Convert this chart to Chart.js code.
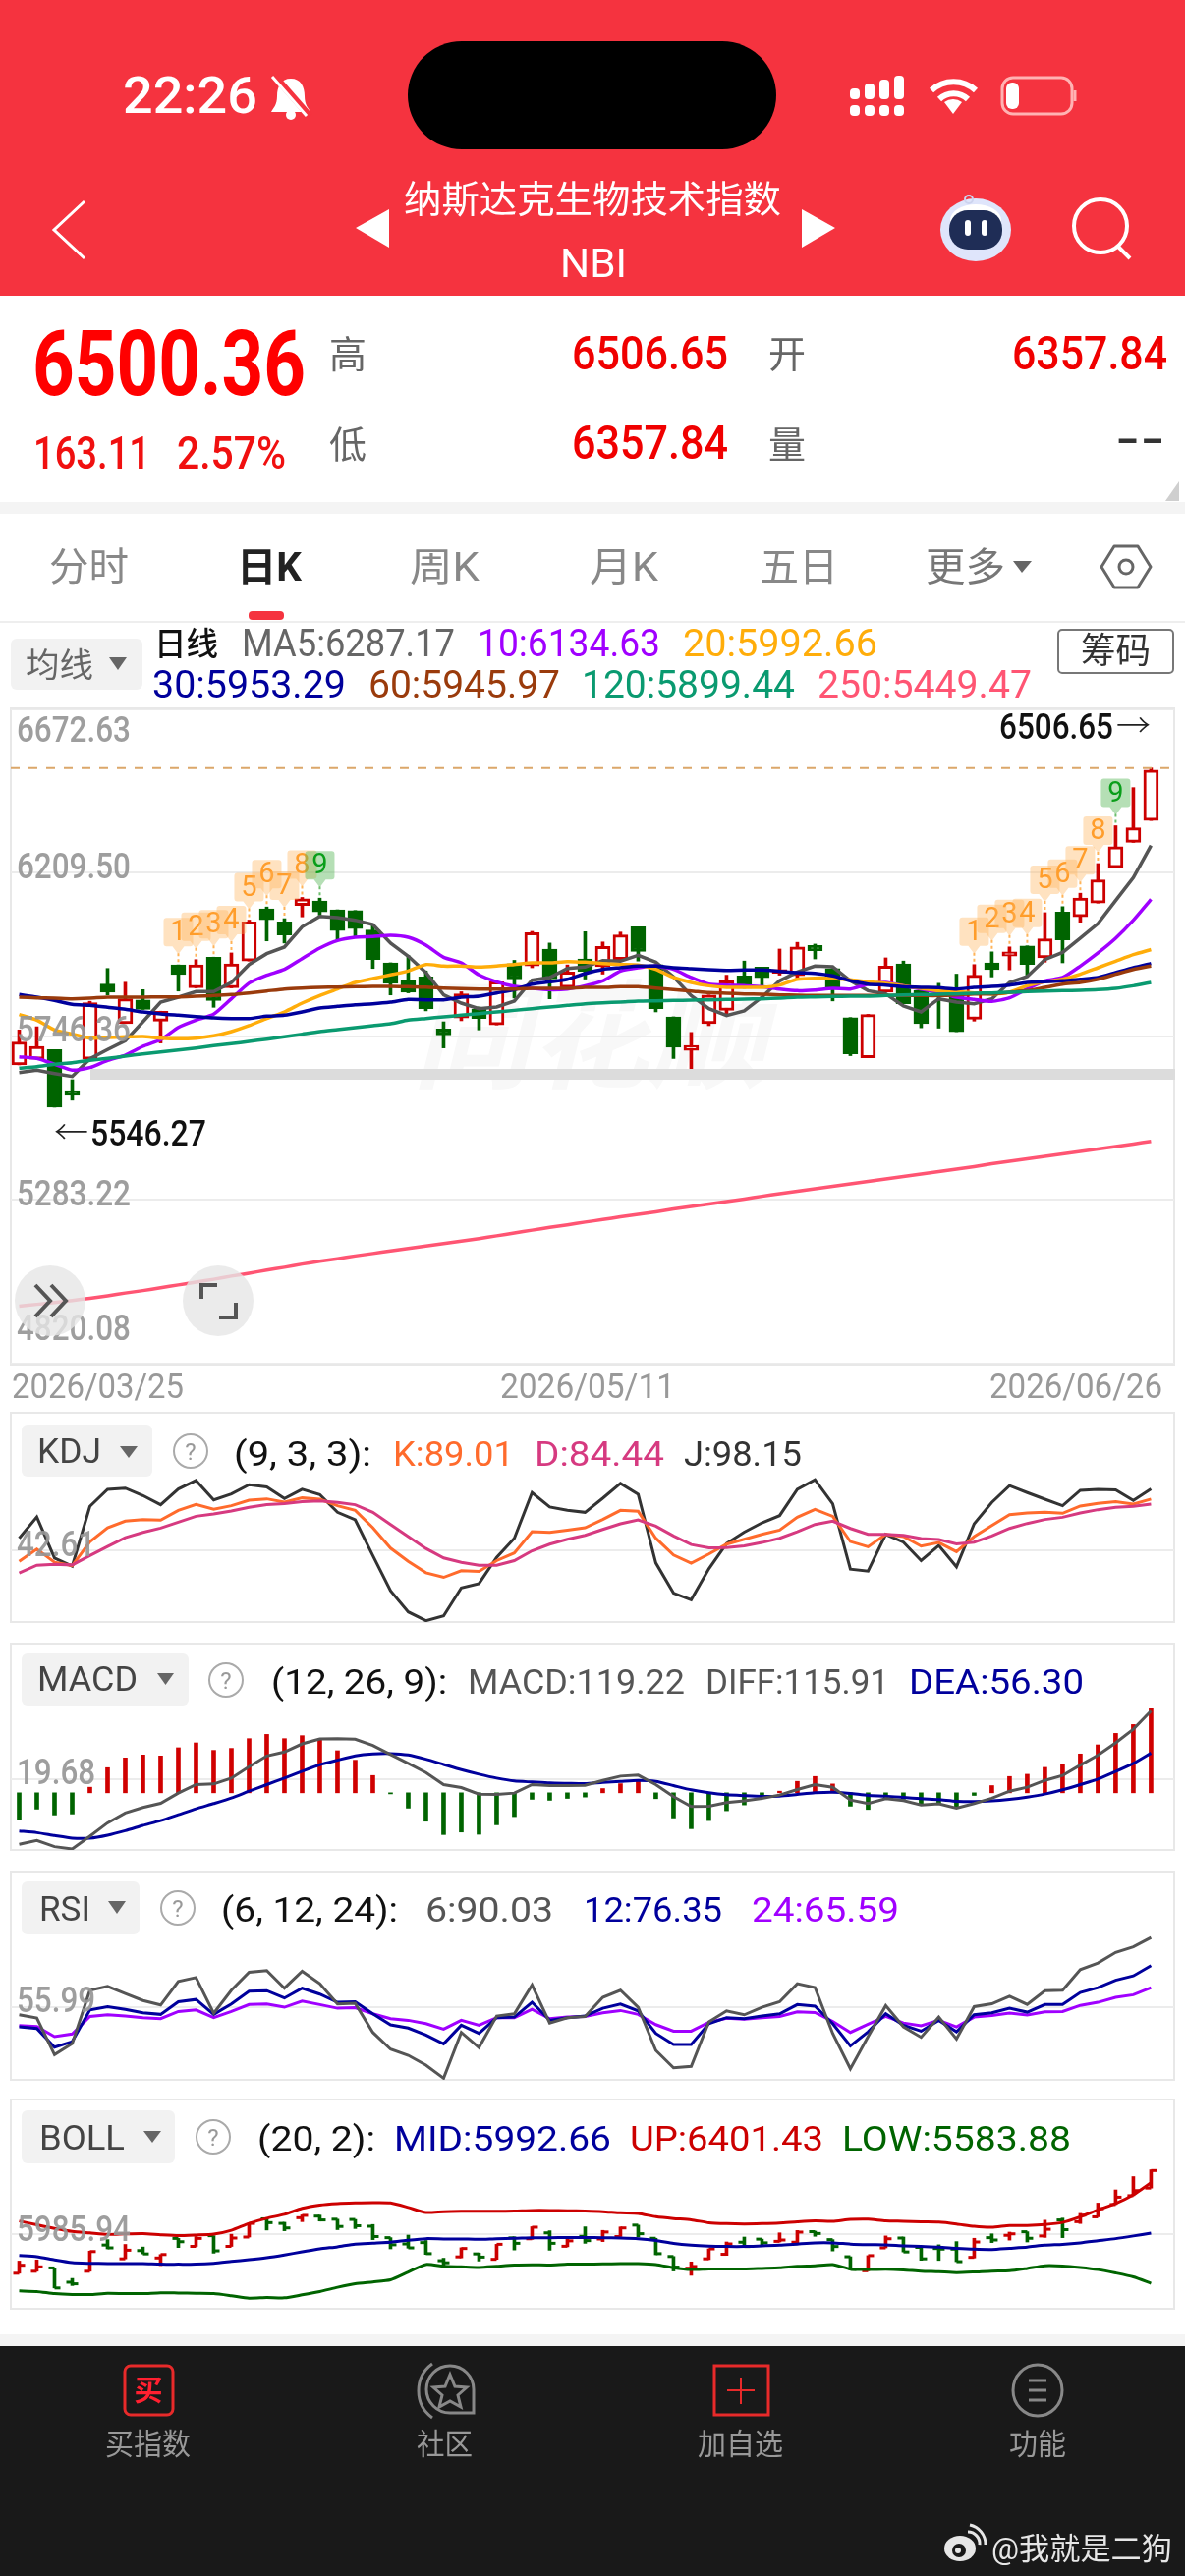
<!DOCTYPE html>
<html>
<head>
<meta charset="utf-8">
<title>NBI 日K</title>
<script src="https://cdn.jsdelivr.net/npm/chart.js@4"></script>
<style>
html, body { margin: 0; padding: 0; background: #fff; }
#page { position: relative; width: 1206px; height: 2622px; overflow: hidden; background: #fff; font-family: Roboto, "Noto Sans CJK SC", sans-serif; }
#page canvas { position: absolute; left: 0; z-index: 2; }
.block, .frame { position: absolute; box-sizing: border-box; }
.frame { border: 2px solid #e8e8e8; left: 10px; width: 1186px; z-index: 1; }
.t { position: absolute; white-space: nowrap; line-height: 1; transform-origin: left center; z-index: 4; }
#icons { position: absolute; left: 0; top: 0; z-index: 3; }
#mark { position: absolute; left: 420px; top: 986px; font: italic 700 120px "Noto Sans CJK SC"; color: #f8f8f8; z-index: 0; white-space: nowrap; line-height: 1; }
</style>
</head>
<body>
<div id="page">
  <div class="block" style="left:0;top:0;width:1206px;height:301px;background:#f5333f"></div>
  <div class="block" style="left:415px;top:42px;width:375px;height:110px;border-radius:55px;background:#000"></div>
  <div class="block" style="left:0;top:511px;width:1206px;height:12px;background:#f4f4f4"></div>
  <div class="block" style="left:0;top:632px;width:1206px;height:2px;background:#eeeeee"></div>
  <div class="block" style="left:253px;top:622px;width:36px;height:9px;border-radius:4px;background:#f5333f"></div>
  <div class="block" style="left:11px;top:650px;width:134px;height:52px;border-radius:6px;background:#f2f2f2"></div>
  <div class="block" style="left:1076px;top:640px;width:119px;height:46px;border-radius:5px;border:2px solid #777"></div>
  <div id="mark">同花顺</div>
  <div class="frame" style="top:720px;height:670px"></div>
  <div class="frame" style="top:1437px;height:215px"></div>
  <div class="block" style="left:22px;top:1450px;width:133px;height:53px;border-radius:6px;background:#f2f2f2"></div>
  <div class="frame" style="top:1672px;height:212px"></div>
  <div class="block" style="left:22px;top:1683px;width:170px;height:53px;border-radius:6px;background:#f2f2f2"></div>
  <div class="frame" style="top:1904px;height:214px"></div>
  <div class="block" style="left:22px;top:1915px;width:120px;height:54px;border-radius:6px;background:#f2f2f2"></div>
  <div class="frame" style="top:2136px;height:215px"></div>
  <div class="block" style="left:22px;top:2148px;width:156px;height:54px;border-radius:6px;background:#f2f2f2"></div>
  <div class="block" style="left:92px;top:1088px;width:1104px;height:11px;background:#dcdcdc;z-index:3"></div>
  <div class="block" style="left:0;top:2376px;width:1206px;height:12px;background:#f4f4f4"></div>
  <div class="block" style="left:0;top:2388px;width:1206px;height:234px;background:#191919"></div>

  <canvas id="kline" width="1206" height="666" style="top:722px"></canvas>
  <canvas id="kdj" width="1206" height="213" style="top:1438px"></canvas>
  <canvas id="macd" width="1206" height="210" style="top:1673px"></canvas>
  <canvas id="rsi" width="1206" height="212" style="top:1905px"></canvas>
  <canvas id="boll" width="1206" height="213" style="top:2137px"></canvas>

  <svg id="icons" width="1206" height="2622" viewBox="0 0 1206 2622" fill="none">
    <!-- status bar -->
    <g fill="#fff">
      <rect x="865" y="90" width="10" height="11" rx="4"/><rect x="865" y="107" width="10" height="11" rx="4"/>
      <rect x="880" y="85" width="10" height="16" rx="4"/><rect x="880" y="107" width="10" height="11" rx="4"/>
      <rect x="895" y="81" width="10" height="20" rx="4"/><rect x="895" y="107" width="10" height="11" rx="4"/>
      <rect x="910" y="77" width="10" height="24" rx="4"/><rect x="910" y="107" width="10" height="11" rx="4"/>
      <path d="M970 116 l-9 -12 a15 15 0 0 1 18 0 z"/>
    </g>
    <path d="M948 92 a33 33 0 0 1 45 0 M956 101 a21 21 0 0 1 29 0" stroke="#fff" stroke-width="6"/>
    <rect x="1020" y="79" width="71" height="37" rx="11" stroke="#ffb3b3" stroke-width="3"/>
    <rect x="1024" y="84" width="13" height="27" rx="6" fill="#fff"/>
    <path d="M1094 92 v11" stroke="#ffb3b3" stroke-width="3"/>
    <path d="M296 80 c-10 0 -14 8 -14 18 c0 9 -4 12 -6 16 h40 c-2 -4 -6 -7 -6 -16 c0 -10 -4 -18 -14 -18 z" fill="#fff"/>
    <circle cx="296" cy="117" r="5" fill="#fff"/>
    <path d="M280 78 L315 118" stroke="#f5333f" stroke-width="7"/><path d="M277 78 L312 118" stroke="#fff" stroke-width="3"/>
    <!-- nav bar -->
    <polyline points="86,205 55,234 86,263" stroke="#fff" stroke-width="3"/>
    <polygon points="396,213 362,232 396,252" fill="#fff"/>
    <polygon points="816,213 850,232 816,252" fill="#fff"/>
    <circle cx="1120" cy="230" r="27" stroke="#fff" stroke-width="4"/>
    <path d="M1138 251 L1150 263" stroke="#fff" stroke-width="4"/>
    <ellipse cx="993" cy="234" rx="36" ry="32" fill="#dfe5fb"/>
    <ellipse cx="993" cy="224" rx="26" ry="16" fill="#ffffff"/>
    <rect x="966" y="214" width="54" height="40" rx="19" fill="#1f2d56"/>
    <rect x="982" y="224" width="6" height="16" rx="3" fill="#fff"/>
    <rect x="999" y="224" width="6" height="16" rx="3" fill="#fff"/>
    <circle cx="986" cy="203" r="4" stroke="#ccd3ee" stroke-width="2"/>
    <polygon points="1186,510 1200,510 1200,490" fill="#cfcfcf"/>
    <polygon points="1031,571 1050,571 1040,583" fill="#666"/>
    <polygon points="1121,577 1134,556 1158,556 1171,577 1158,598 1134,598" stroke="#666" stroke-width="3" stroke-linejoin="round"/>
    <circle cx="1146" cy="577" r="7" stroke="#666" stroke-width="3"/>
    <polygon points="111,669 129,669 120,682" fill="#666"/>
    <!-- chart buttons -->
    <circle cx="51" cy="1324" r="36" fill="#e6e6e6" fill-opacity=".8"/>
    <path d="M36 1308 L51 1324 L36 1340 M52 1308 L67 1324 L52 1340" stroke="#555" stroke-width="4"/>
    <circle cx="222" cy="1324" r="36" fill="#e6e6e6" fill-opacity=".8"/>
    <path d="M205 1322 v-14 h16 M240 1326 v15 h-17" stroke="#555" stroke-width="4"/>
    <!-- indicator headers -->
    <polygon points="122,1472 140,1472 131,1484" fill="#666"/>
    <polygon points="160,1703 177,1703 168.500,1715" fill="#666"/>
    <polygon points="110,1935 128,1935 119,1948" fill="#666"/>
    <polygon points="146,2169 164,2169 155,2181" fill="#666"/>
    <g stroke="#aaa" stroke-width="2"><circle cx="194" cy="1477" r="17"/><circle cx="230" cy="1710" r="17"/><circle cx="181" cy="1942" r="17"/><circle cx="217" cy="2175" r="17"/></g>
    <g fill="#999" font-family="Roboto" font-size="24" text-anchor="middle">
      <text x="194" y="1486">?</text><text x="230" y="1719">?</text><text x="181" y="1951">?</text><text x="217" y="2184">?</text>
    </g>
    <!-- tab bar -->
    <rect x="127" y="2408" width="49" height="50" rx="6" stroke="#e82a2a" stroke-width="3"/>
    <text x="151" y="2444" fill="#ff2030" font-family="Noto Sans CJK SC" font-weight="700" font-size="29" text-anchor="middle">买</text>
    <path d="M440 2406 a34 34 0 0 0 0 55" stroke="#888" stroke-width="3"/>
    <path d="M482 2456 h-24 a24 24 0 1 1 24 -24 z" stroke="#888" stroke-width="3"/>
    <polygon points="458,2417 463,2429 475,2430 466,2438 469,2450 458,2444 447,2450 450,2438 441,2430 453,2429" stroke="#888" stroke-width="3"/>
    <rect x="727" y="2408" width="55" height="50" stroke="#e82a2a" stroke-width="3"/>
    <path d="M754 2420 v27 M740 2433 h28" stroke="#e82a2a" stroke-width="2"/>
    <ellipse cx="1056" cy="2433" rx="25" ry="26" stroke="#888" stroke-width="3"/>
    <path d="M1047 2423 h18 M1047 2433 h18 M1047 2443 h18" stroke="#888" stroke-width="3"/>
    <ellipse cx="977" cy="2594" rx="16" ry="13" fill="#e6e6e6"/>
    <circle cx="976" cy="2596" r="7" fill="#191919"/><circle cx="975" cy="2596" r="3" fill="#e6e6e6"/>
    <path d="M985 2577 a12 12 0 0 1 12 13 M987 2570 a20 20 0 0 1 16 20" stroke="#e6e6e6" stroke-width="3"/>
  </svg>
</div>

<script>
// trading days on the daily axis, oldest first
const axisDates = ['2026/03/25', '2026/05/11', '2026/06/26'];

const opens = [
  5666,5682,5709,5593,5682,5895,5783,5850,5790,5949,
  5884,5971,5884,5960,6108,6071,6117,6130,6105,6103,
  6048,5955,5904,5915,5768,5799,5823,5779,5953,5946,
  5994,5885,5966,5944,5964,6057,5950,5802,5707,5783,
  5820,5918,5943,5925,5918,6004,5939,5800,5686,5872,
  5952,5876,5867,5862,5795,5955,5974,6003,5969,6099,
  6085,6124,6224,6296,6357.84
];
const closes = [
  5731,5718,5546.27,5580,5842,5872,5853,5823,5818,5922,
  5949,5848,5952,6071,6077,6034,6136,6099,6046,6052,
  5964,5897,5872,5825,5751,5867,5797,5901,5909,6040,
  5909,5929,5931,6001,6034,5987,5825,5716,5721,5864,
  5904,5883,5913,5936,6000,5989,5883,5697,5809,5946,
  5839,5783,5862,5760,5920,5936,5986,5950,6023,6020,
  6138,6190,6284,6337.25,6500.36
];
const highs = [
  5765,5774,5709,5624,5846,5939,5900,5879,5818,5949,
  5964,5971,5983,6076,6113,6080,6140,6138,6105,6103,
  6062,5955,5976,5932,5788,5873,5830,5901,5962,6044,
  6011,5949,6043,6014,6042,6057,5950,5802,5758,5864,
  5920,5960,5943,5994,6013,6008,5939,5800,5809,5969,
  5960,5876,5897,5923,5950,5986,6000,6003,6097,6114,
  6152,6236,6343,6451,6506.65
];
const lows = [
  5666,5682,5546.27,5566,5682,5864,5783,5823,5728,5875,
  5884,5829,5884,5960,6017,6011,6085,6090,6020,6029,
  5939,5864,5870,5819,5714,5791,5765,5779,5855,5941,
  5853,5881,5909,5923,5964,5960,5816,5684,5649,5777,
  5811,5883,5890,5920,5911,5966,5847,5692,5686,5872,
  5839,5771,5770,5760,5790,5915,5935,5920,5957,5955,
  6070,6124,6224,6296,6357.84
];

const ma5 = [
  5644.4,5650.9,5641.6,5633.2,5683.3,5709.3,5734.3,5788.1,5843.7,5857.6,
  5873.4,5873.4,5899.4,5950.3,5981,5999.5,6057,6086.6,6082.9,6075.5,
  6063.5,6010.6,5973.5,5927.1,5864.1,5840.9,5825.2,5829.8,5846.5,5905.8,
  5913.3,5939.2,5942.9,5961.5,5959.6,5976.3,5956.8,5915.1,5862.2,5825.2,
  5805.7,5818.7,5857.6,5904,5929,5945.7,5943.8,5904,5876.1,5866.9,
  5832.6,5815.9,5853,5843.7,5839.1,5853,5899.4,5916,5964.3,5984.6,
  6024.6,6066.3,6131.2,6196.1,6287.17
];
const ma10 = [
  5688.9,5684.3,5667.6,5650.9,5658.3,5678.7,5693.5,5718.5,5737.1,5772.3,
  5792.7,5809.4,5853,5897.5,5919.8,5936.4,5967,5996.7,6018,6027.3,
  6029.2,6032.9,6027.3,6005.1,5970.8,5954.9,5920.7,5901.2,5888.2,5882.7,
  5878.9,5880.8,5890,5904,5931.8,5941.1,5945.7,5936.4,5913.3,5894.7,
  5892,5890,5887.3,5880.8,5876.1,5878,5882.7,5880.8,5894.7,5899.4,
  5890,5880.8,5871.5,5857.6,5851.1,5845.6,5855.8,5880.8,5904,5913.3,
  5945.7,5982.8,6024.6,6075.5,6134.63
];
const ma20 = [
  5808.5,5792.7,5764.9,5752.9,5741.7,5743.6,5745.4,5746.4,5741.7,5739.9,
  5741.7,5748.2,5760.3,5777,5797.4,5815.9,5840.9,5862.2,5880.8,5899.4,
  5910.6,5920.7,5931.8,5950.3,5945.7,5945.7,5942.9,5945.7,5950.3,5954.9,
  5954.9,5958.7,5956.8,5953,5950.3,5948.5,5936.4,5913.3,5899.4,5890,
  5885.4,5885.4,5885.4,5892,5908.5,5911.4,5910.6,5906.8,5901.2,5896.6,
  5890,5882.7,5876.1,5873.4,5869.7,5866.9,5871.5,5890,5901.2,5908.5,
  5922.5,5941.1,5959.6,5978.2,5992.66
];
const ma30 = [
  5865,5857.6,5848.4,5837.2,5834.5,5828.9,5823.3,5815.9,5810.4,5806.6,
  5802.9,5799.2,5797.4,5797.4,5803.8,5806.6,5815.9,5827,5831.7,5836.3,
  5839.1,5843.7,5851.1,5850.2,5850.2,5857.6,5860.4,5869.7,5878.9,5894.7,
  5901.2,5908.5,5924.4,5936.4,5941.1,5945.7,5945.7,5941.1,5938.3,5935.5,
  5933.6,5934.6,5934.6,5930.9,5927.2,5925.3,5917.9,5904,5894.7,5892,
  5887.3,5885.4,5884.5,5880.8,5885.4,5888.2,5892,5899.4,5901.2,5904,
  5908.5,5913.3,5927.2,5941.1,5953.29
];
const ma60 = [
  5857.6,5855.8,5854.8,5853,5854.8,5857.6,5857.6,5857.6,5858.6,5858.6,
  5860.4,5862.2,5865,5869.7,5875.2,5880.8,5883.6,5885.4,5886.4,5887.3,
  5888.2,5888.2,5887.3,5886.4,5883.6,5881.7,5880.8,5880.8,5880.8,5882.7,
  5882.7,5882.7,5885.4,5885.4,5887.3,5887.3,5883.6,5878.9,5875.2,5870.6,
  5868.8,5866.9,5866,5864.1,5863.2,5862.2,5862.2,5862.2,5862.2,5862.2,
  5862.2,5862.2,5862.2,5864.1,5866.9,5866.9,5871.5,5876.1,5885.4,5894.7,
  5899.4,5908.5,5922.5,5936.4,5945.97
];
const ma120 = [
  5656.4,5661.1,5667.6,5672.2,5678.7,5684.3,5690.7,5697.1,5702.7,5708.4,
  5713.9,5720.4,5726,5732.5,5738.9,5745.4,5752.9,5760.3,5765.8,5771.4,
  5777,5782.5,5792.7,5797.4,5802,5806.6,5811.2,5815.9,5820.4,5825.2,
  5829.8,5834.5,5839.1,5841.8,5843.7,5846.5,5847.4,5848.3,5849.3,5850.2,
  5851.1,5852,5853,5854.8,5857.6,5858.5,5859.5,5860.4,5860.4,5862.2,
  5864.1,5865,5865.9,5866.9,5868.8,5869.7,5871.5,5873.4,5875.2,5876.1,
  5877.1,5878.9,5882.7,5890,5899.44
];
const ma250 = [
  4983,4988,4993,4999,5005,5012,5020,5027,5035,5043,
  5051,5059,5068,5076,5085,5093,5102,5110,5117,5125,
  5132,5139,5146,5153,5160,5167,5174,5182,5190,5198,
  5206,5213,5221,5228,5236,5243,5250,5258,5265,5272,
  5279,5286,5294,5301,5308,5315,5322,5329,5336,5343,
  5350,5357,5364,5371,5378,5386,5393,5400,5407,5414,
  5421,5428,5435,5442,5449.47
];

const kdjK = [
  32.6,43.6,31.7,28.7,50.2,63,69,70.5,69.9,78.8,
  84.2,79.7,83,88,89.2,86.3,90.1,88.9,83,78.8,
  63,44.5,32.6,22.2,18,24,23.4,33.2,40.1,59.4,
  58.8,60.9,63,70.5,78.8,77.9,53.5,38.3,30.8,39.2,
  48.1,52.6,57,60.9,72.5,79.7,73.4,50.5,45.7,57,
  55,46.3,49.6,41.3,55,65.1,74.9,76.4,77,76.1,
  82.7,85.1,86.6,84.5,89.01
];
const kdjD = [
  21.9,29,29.9,29.3,37.7,46,54.1,58.8,62.7,68.1,
  73.4,75.5,78.2,81.5,83.9,84.8,86.6,87.4,86,83.9,
  77,66,55,44.2,35.6,31.7,29,29,33.2,42.1,
  48.1,52.6,56.2,61.5,66.6,70.2,64.5,55.6,47.8,44.8,
  45.1,46.6,49.6,53.5,59.4,66,69,62.4,57,57,
  56.2,53.2,52.3,48.4,49.9,55.6,62.4,66.9,70.5,72.5,
  76.4,79.4,81.5,82.4,84.44
];
const kdjJ = [
  53.5,72.8,35.6,28.1,82.4,97.9,99,92.2,83.9,98.2,
  105.9,88.3,93.7,102,100,89.5,97.9,93.1,77,70.2,
  37.7,5.8,-13.3,-21.3,-16.9,8.5,12.4,36.2,53.5,94.9,
  81.8,78.8,77,89.8,103.2,93.4,31.1,3.7,-2.3,25.8,
  48.7,59.1,67.5,74,97.9,106.5,84.8,25.5,23.7,57,
  49.9,33.2,46.9,27.6,66.6,86,101.2,94.9,88.9,83,
  97,97.9,97.3,87.7,98.15
];

const macdBars = [
  -38.4,-23.1,-31.4,-30,7.9,35.6,49.4,53.6,52.2,63.8,
  70.7,60.1,62.9,76.7,82.7,76.7,80.9,74.9,59.6,46.2,
  24.5,-1.5,-21.7,-40.2,-59.1,-55.5,-58.7,-45.3,-33.7,-9.2,
  -10.6,-7.9,-6,6,12.9,16.2,-8.3,-35.6,-50.8,-39.3,
  -25.4,-17.1,-6.9,2.3,16.2,23.1,12.5,-18.9,-23.6,-9.2,
  -9.2,-16.2,-15.2,-19.9,-3.7,10.2,23.1,26.3,36,40.2,
  55,67.9,84.1,96.6,119.22
];
const macdDiff = [
  -73,-67.5,-76.2,-79.5,-61.4,-42.5,-28.6,-20.8,-14.8,-0.4,
  11.6,12.5,20.8,37,52.2,57.8,69.3,76.3,76.7,75.8,
  67,54.1,41.6,28.7,11.6,7.4,-1.8,-2.3,-0.4,11.6,
  10.2,10.2,10.7,17.6,23.6,25,11.6,-5.5,-19.4,-18.9,
  -13.8,-11.5,-7.8,-3.2,4.6,11.6,7.9,-10.1,-15.2,-8.3,
  -11.1,-17.1,-15.7,-21.7,-15.2,-7.8,2.3,7.9,17.6,24.5,
  39.3,53.2,70.7,90.1,115.91
];
const macdDea = [
  -54,-56.4,-60.5,-64.2,-64.2,-60,-53.6,-46.2,-39.3,-31,
  -22.6,-15.2,-7.4,2.3,11.6,20.8,30.5,39.8,46.2,52.2,
  55,55.5,53.6,47.6,40.2,32.8,26.4,20.8,16.7,15.3,
  13.9,13.4,13,14.8,16.2,17.6,16.2,10.2,4.2,0,
  -2.8,-4.1,-5.1,-4.6,-2.3,0,0.9,-0.9,-3.7,-4.6,
  -6.4,-8.3,-9.7,-12,-12.5,-11.5,-9.2,-6,-1.8,4.2,
  11.6,19.4,30.1,41.6,56.30
];

const rsi6 = [
  52.3,50.7,32.8,38.2,64.3,66.2,62.7,59.3,57.1,68.6,
  70.5,53.1,64.3,73.1,73.9,65.3,73.6,67.5,57.6,57.9,
  43.7,35.5,32.5,27.7,21.3,43.7,36.3,51.7,52.8,66.9,
  48.3,50.9,51.5,60.8,64.3,56,34.9,26.4,27.1,48.8,
  54.2,52.3,56,58.7,67.5,65.6,43.2,25.9,41.6,56.8,
  46.4,41.3,51.2,40.5,56.3,57.7,61.4,57.4,64.1,64.3,
  74.4,77.6,82.8,85.5,90.03
];
const rsi12 = [
  46.4,45.6,36.5,39.2,54.7,56.3,55,53.3,52.5,58.7,
  59.8,52.5,57.6,63.8,64.1,60.5,65.3,62.4,58.4,58.7,
  52.8,47.4,45.8,42.4,38.1,47.2,43.2,50.9,51.2,58.4,
  49.6,50.9,51.7,55.5,57.6,54.2,43.2,37.8,37.8,48,
  50.9,50.4,51.7,52.8,57.3,56.5,48,37.1,44,52.8,
  47.2,44.3,49.6,44,52.3,53.3,55.5,53.6,57.3,57.3,
  63.2,65.6,69.2,71.3,76.35
];
const rsi24 = [
  47,46.6,41.6,42.9,51.5,52.3,51.7,50.9,50.4,53.9,
  54.7,50.9,53.9,57.3,57.6,56,59,57.3,55.5,55.8,
  52.8,50.4,49.6,48,45.3,49.6,47.2,50.9,50.9,55,
  50.4,51.2,51.5,53.3,54.4,52.5,47.5,44.3,44.3,48.6,
  50.6,50.1,50.9,51.5,53.7,53.4,49.1,43.7,47.7,51.5,
  48.3,46.9,49.6,46.4,51.2,52,53.1,52.2,53.7,53.9,
  56.9,58.4,60.8,62.1,65.59
];

const bollUp = [
  6090.9,6059.1,6029.9,6005.5,5993.3,5981,5985.9,5988.4,5978.6,5971.3,
  5976.2,5983.5,6015.2,6071.3,6112.8,6144.5,6193.3,6220.2,6232.4,6237.3,
  6239.7,6237.3,6200.7,6159.2,6166.5,6169,6169,6169,6171.4,6176.3,
  6176.3,6173.8,6171.4,6166.5,6156.7,6151.9,6125,6110.4,6100.6,6076.2,
  6068.9,6066.5,6068.9,6073.8,6083.5,6090.9,6088.4,6103.1,6105.5,6090.9,
  6088.4,6083.5,6081.1,6066.5,6047,6039.6,6054.3,6054.3,6061.6,6078.7,
  6125,6181.1,6232.4,6303.1,6401.43
];
const bollMid = [
  5810.3,5800.5,5773.7,5751.7,5746.8,5744.4,5744.4,5744.4,5739.5,5739.5,
  5739.5,5746.8,5761.5,5776.1,5793.2,5815.1,5839.5,5863.9,5881,5903,
  5910.3,5917.6,5934.7,5946.9,5944.5,5944.5,5942,5946.9,5949.3,5954.2,
  5954.2,5956.7,5956.7,5954.2,5951.8,5946.9,5932.3,5907.9,5893.2,5885.9,
  5883.5,5883.5,5888.3,5893.2,5903,5912.7,5912.7,5903,5898.1,5895.7,
  5888.3,5883.5,5878.6,5868.8,5861.5,5859,5868.8,5878.6,5893.2,5900.5,
  5912.7,5929.8,5946.9,5968.9,5992.66
];
const bollLow = [
  5522.3,5517.5,5500.4,5493,5493,5502.8,5500.4,5500.4,5507.7,5505.3,
  5502.8,5500.4,5483.3,5463.8,5468.7,5466.2,5490.6,5517.5,5551.6,5580.9,
  5595.5,5612.6,5676.1,5737,5722.4,5717.5,5712.6,5722.4,5732.2,5734.6,
  5732.2,5739.5,5739.5,5742,5744.4,5744.4,5737,5710.2,5695.6,5700.4,
  5700.4,5700.4,5705.3,5710.2,5722.4,5727.3,5737,5700.4,5695.6,5698,
  5693.1,5683.4,5678.5,5671.2,5676.1,5683.4,5685.8,5705.3,5727.3,5724.9,
  5712.6,5695.6,5668.7,5637,5583.88
];

// TD sequence counters, candle index and the count shown above it
const tdIndex = [9,10,11,12,13,14,15,16,17,54,55,56,57,58,59,60,61,62];
const tdCount = [1,2,3,4,5,6,7,8,9,1,2,3,4,5,6,7,8,9];

const priceTicks = [6672.63, 6209.50, 5746.36, 5283.22, 4820.08];
const priceHigh = 6506.65;
const priceLow = 5546.27;

const RED = '#cc0000';
const GREEN = '#006400';
const GREY_LINE = '#555555';
const NAVY = '#00009c';
const PURPLE = '#a000ff';

// x runs in candle numbers, one candle every 18px starting at 19.5px
const xMin = -0.472;
const xMax = 65.31;

function pts(values) {
  return values.map((y, x) => ({ x, y }));
}

function lineSet(values, color, width, tension) {
  return {
    type: 'line', data: pts(values), borderColor: color, borderWidth: width || 3,
    pointRadius: 0, tension: tension || 0, order: 0, fill: false
  };
}

const upDown = i => closes[i] >= opens[i];
const candleColors = closes.map((c, i) => upDown(i) ? RED : GREEN);

// draws the grey value labels over the marks, squeezed to the narrow digits of the app
function tickLabelPlugin(ticks, offsets) {
  return {
    id: 'tickLabels',
    afterDatasetsDraw(chart) {
      const { ctx, scales: { y } } = chart;
      ctx.save();
      ctx.font = '500 37px Roboto';
      ctx.fillStyle = 'rgba(150,150,150,.92)';
      ctx.textBaseline = 'middle';
      ticks.forEach((v, i) => {
        ctx.save();
        ctx.translate(17, y.getPixelForValue(v) + offsets[i]);
        ctx.scale(0.85, 1);
        ctx.fillText(v.toFixed(2), 0, 0);
        ctx.restore();
      });
      ctx.restore();
    }
  };
}

const tdPlugin = {
  id: 'tdSequence',
  afterDatasetsDraw(chart) {
    const { ctx, scales: { x, y } } = chart;
    ctx.save();
    tdIndex.forEach((idx, n) => {
      const count = tdCount[n];
      const cx = x.getPixelForValue(idx);
      const top = y.getPixelForValue(highs[idx]);
      const bottom = top - 19;
      const nine = count === 9;
      ctx.strokeStyle = nine ? '#6fbf6f' : '#ffb45a';
      ctx.lineWidth = 2;
      ctx.setLineDash([3, 3]);
      ctx.beginPath();
      ctx.moveTo(cx, bottom + 7);
      ctx.lineTo(cx, top);
      ctx.stroke();
      ctx.setLineDash([]);
      ctx.fillStyle = nine ? 'rgba(90,185,90,.45)' : 'rgba(255,180,90,.38)';
      ctx.beginPath();
      ctx.roundRect(cx - 15, bottom - 29, 30, 29, 3);
      ctx.moveTo(cx - 6, bottom);
      ctx.lineTo(cx, bottom + 8);
      ctx.lineTo(cx + 6, bottom);
      ctx.fill();
      ctx.fillStyle = nine ? '#0a9e1a' : '#ff9d2b';
      ctx.font = '29px Roboto';
      ctx.textAlign = 'center';
      ctx.textBaseline = 'middle';
      ctx.fillText(String(count), cx, bottom - 13);
    });
    ctx.restore();
  }
};

function drawPanel(id, datasets, yMin, yMax, gridVals, plugins) {
  return new Chart(document.getElementById(id), {
    type: 'bar',
    data: { datasets },
    plugins,
    options: {
      responsive: false,
      animation: false,
      devicePixelRatio: 1,
      layout: { padding: { left: 11, right: 11, top: 0, bottom: 0 } },
      plugins: { legend: { display: false }, tooltip: { enabled: false } },
      scales: {
        x: { type: 'linear', offset: false, min: xMin, max: xMax, display: false, grid: { display: false } },
        y: {
          min: yMin, max: yMax,
          afterBuildTicks: s => { s.ticks = gridVals.map(value => ({ value })); },
          ticks: { display: false },
          border: { display: false },
          grid: { color: '#ececec', lineWidth: 2, drawTicks: false }
        }
      }
    }
  });
}

// wick below, body above it, used by the candle panel
function candleSets() {
  return [
    {
      data: pts(lows.map((l, i) => [l, highs[i]])), backgroundColor: candleColors,
      barThickness: 3, grouped: false, order: 3
    },
    {
      data: pts(opens.map((o, i) => [o, closes[i]])),
      backgroundColor: closes.map((c, i) => upDown(i) ? '#ffffff' : GREEN),
      borderColor: candleColors, borderWidth: 3, borderSkipped: false,
      barThickness: 15, grouped: false, order: 2
    }
  ];
}

drawPanel('kline', [
  ...candleSets(),
  {
    type: 'line', data: [{ x: xMin, y: priceHigh }, { x: xMax, y: priceHigh }],
    borderColor: '#dba76a', borderWidth: 2, borderDash: [9, 9], pointRadius: 0, order: 1
  },
  lineSet(ma250, '#ff5573', 3.5, 0.2),
  lineSet(ma120, '#0a9a70', 3.5, 0.2),
  lineSet(ma60, '#9a3b0c', 3.5, 0.2),
  lineSet(ma30, NAVY, 3.5, 0.2),
  lineSet(ma20, '#ffad0a', 3.5, 0.2),
  lineSet(ma10, PURPLE, 3.5, 0.2),
  lineSet(ma5, GREY_LINE, 3.5)
], 4820.08, 6672.63, priceTicks, [tdPlugin, tickLabelPlugin(priceTicks, [24, -4, -4, -4, -33])]);

drawPanel('kdj', [
  lineSet(kdjD, '#d63a80'),
  lineSet(kdjK, '#ff6b2c'),
  lineSet(kdjJ, '#333333')
], -22.5, 167.3, [42.61], [tickLabelPlugin([42.61], [-3])]);

drawPanel('macd', [
  {
    data: pts(macdBars), backgroundColor: macdBars.map(v => v > 0 ? '#d00000' : GREEN),
    barThickness: 4, grouped: false, order: 2
  },
  lineSet(macdDiff, GREY_LINE),
  lineSet(macdDea, NAVY, 3, 0.2)
], -80.9, 211.2, [19.68], [tickLabelPlugin([19.68], [-4])]);

drawPanel('rsi', [
  lineSet(rsi6, GREY_LINE),
  lineSet(rsi12, NAVY),
  lineSet(rsi24, PURPLE)
], 20.5, 122.3, [55.99], [tickLabelPlugin([55.99], [-4])]);

drawPanel('boll', [
  {
    data: pts(lows.map((l, i) => [l, highs[i]])), backgroundColor: candleColors,
    barThickness: 3, grouped: false, order: 2
  },
  {
    type: 'line', data: pts(closes), showLine: false, pointStyle: 'dash', pointRadius: 6,
    pointRotation: 0, pointBorderColor: candleColors, pointBorderWidth: 3, order: 1
  },
  {
    type: 'line', data: pts(opens), showLine: false, pointStyle: 'dash', pointRadius: 6,
    pointRotation: 180, pointBorderColor: candleColors, pointBorderWidth: 3, order: 1
  },
  lineSet(bollUp, RED, 3, 0.2),
  lineSet(bollMid, NAVY, 3, 0.2),
  lineSet(bollLow, GREEN, 3, 0.2)
], 5449, 7005.9, [5985.94], [tickLabelPlugin([5985.94], [-2])]);

// page text: string, left, right, vertical centre, size, colour, weight
const texts = [
  ['22:26', 125, 262, 97, 51, '#fff', 500],
  ['纳斯达克生物技术指数', 411, 795, 203, 38, '#fff', 400],
  ['NBI', 570, 638, 269, 40, '#fff', 400],
  ['6500.36', 33, 311, 371, 92, '#ff0000', 700],
  ['163.11', 34, 153, 460, 47, '#f01010', 500],
  ['2.57%', 180, 291, 460, 47, '#f01010', 500],
  ['高', 335, 373, 361, 38, '#666', 400],
  ['低', 335, 373, 453, 38, '#666', 400],
  ['6506.65', 582, 741, 359, 49, '#f00000', 500],
  ['6357.84', 582, 741, 450, 49, '#f00000', 500],
  ['开', 782, 820, 361, 38, '#666', 400],
  ['量', 782, 820, 453, 38, '#666', 400],
  ['6357.84', 1030, 1188, 359, 49, '#f00000', 500],
  ['--', 1135, 1186, 448, 40, '#333', 700],
  ['分时', 50, 131, 578, 40, '#888', 400],
  ['日K', 241, 307, 578, 40, '#222', 700],
  ['周K', 417, 488, 578, 40, '#888', 400],
  ['月K', 600, 670, 578, 40, '#888', 400],
  ['五日', 773, 853, 578, 40, '#888', 400],
  ['更多', 942, 1023, 578, 40, '#777', 400],
  ['均线', 26, 95, 677, 34, '#666', 400],
  ['日线', 157, 222, 655, 33, '#111', 500],
  ['MA5:6287.17', 246, 463, 655, 38, '#666', 400],
  ['10:6134.63', 486, 672, 655, 38, PURPLE, 400],
  ['20:5992.66', 695, 893, 655, 38, '#ffad0a', 400],
  ['30:5953.29', 155, 352, 697, 38, NAVY, 400],
  ['60:5945.97', 375, 570, 697, 38, '#9a3b0c', 400],
  ['120:5899.44', 592, 809, 697, 38, '#0a9a70', 400],
  ['250:5449.47', 832, 1050, 697, 38, '#ff5573', 400],
  ['筹码', 1100, 1171, 663, 36, '#333', 400],
  ['6506.65', 1017, 1133, 739, 37, '#111', 500],
  ['→', 1136, 1171, 738, 33, '#222', 300],
  ['←', 55, 90, 1152, 33, '#222', 300],
  ['5546.27', 92, 210, 1153, 37, '#111', 500],
  [axisDates[0], 12, 187, 1411, 35, '#999', 400],
  [axisDates[1], 509, 687, 1411, 35, '#999', 400],
  [axisDates[2], 1007, 1183, 1411, 35, '#999', 400],
  ['KDJ', 38, 103, 1477, 35, '#444', 400],
  ['(9, 3, 3):', 238, 378, 1480, 35, '#111', 400],
  ['K:89.01', 400, 523, 1480, 35, '#ff6b2c', 400],
  ['D:84.44', 544, 676, 1480, 35, '#d63a80', 400],
  ['J:98.15', 696, 816, 1480, 35, '#333', 400],
  ['MACD', 38, 140, 1709, 35, '#444', 400],
  ['(12, 26, 9):', 276, 455, 1712, 35, '#111', 400],
  ['MACD:119.22', 476, 697, 1712, 35, '#555', 400],
  ['DIFF:115.91', 718, 905, 1712, 35, '#555', 400],
  ['DEA:56.30', 925, 1103, 1712, 35, NAVY, 400],
  ['RSI', 40, 92, 1943, 35, '#444', 400],
  ['(6, 12, 24):', 225, 405, 1944, 35, '#111', 400],
  ['6:90.03', 433, 563, 1944, 35, '#555', 400],
  ['12:76.35', 594, 735, 1944, 35, NAVY, 400],
  ['24:65.59', 765, 915, 1944, 35, PURPLE, 400],
  ['BOLL', 40, 127, 2176, 35, '#444', 400],
  ['(20, 2):', 262, 382, 2177, 35, '#111', 400],
  ['MID:5992.66', 401, 622, 2177, 35, NAVY, 400],
  ['UP:6401.43', 641, 838, 2177, 35, RED, 400],
  ['LOW:5583.88', 857, 1090, 2177, 35, GREEN, 400],
  ['买指数', 107, 194, 2488, 30, '#999', 400],
  ['社区', 424, 481, 2488, 30, '#999', 400],
  ['加自选', 710, 797, 2488, 30, '#999', 400],
  ['功能', 1027, 1085, 2488, 30, '#999', 400],
  ['@我就是二狗', 1009, 1193, 2594, 31, '#e6e6e6', 400]
];

const page = document.getElementById('page');
texts.forEach(([str, x0, x1, yc, size, color, weight]) => {
  const el = document.createElement('span');
  el.className = 't';
  el.textContent = str;
  el.style.left = x0 + 'px';
  el.style.top = yc + 'px';
  el.style.fontSize = size + 'px';
  el.style.color = color;
  el.style.fontWeight = weight;
  page.appendChild(el);
  const w = el.getBoundingClientRect().width;
  el.style.transform = `translateY(-50%) scaleX(${(x1 - x0) / w})`;
});
</script>
</body>
</html>
